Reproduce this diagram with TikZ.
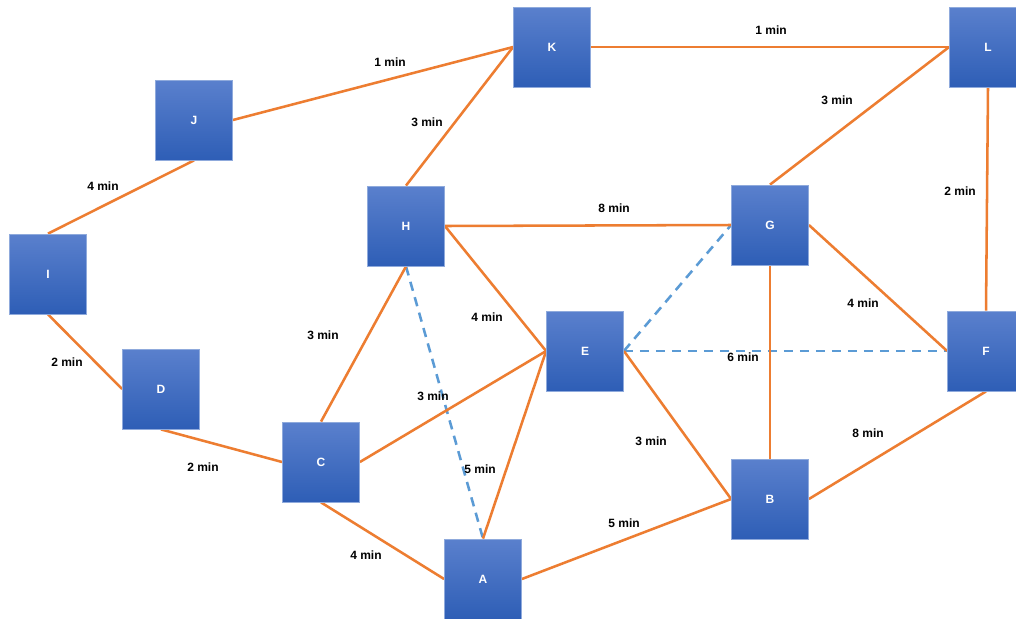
\documentclass[tikz,border=0pt]{standalone}
\usepackage{fontspec}
\setmainfont{Liberation Sans}
\pgfdeclarelayer{links}
\pgfsetlayers{links,main}
\begin{document}
\definecolor{edgeor}{HTML}{ED7D31}
\definecolor{dashbl}{HTML}{5B9BD5}
\definecolor{boxtop}{HTML}{5A80CD}
\definecolor{boxbot}{HTML}{2E5EB6}
\definecolor{boxrim}{HTML}{8FAADC}
\begin{tikzpicture}[x=0.75pt,y=-0.75pt,
  station/.style={rectangle, minimum width=57.75pt, minimum height=60pt, inner sep=0pt,
    top color=boxtop, bottom color=boxbot, draw=boxrim, line width=0.6pt,
    text=white, font=\bfseries\fontsize{9}{10}\selectfont},
  route/.style={draw=edgeor, line width=1.9pt},
  alt/.style={draw=dashbl, line width=1.9pt, dash pattern=on 7pt off 5pt},
  cost/.style={font=\bfseries\fontsize{9}{10}\selectfont, text=black, inner sep=1pt}]
\useasboundingbox (0,0) rectangle (1016,618);
\clip (0,0) rectangle (1016,618);

% stations
\node[station] (K) at (552,47) {K};
\node[station] (L) at (988,47) {L};
\node[station] (J) at (194,120) {J};
\node[station] (I) at (48,274) {I};
\node[station] (H) at (406,226) {H};
\node[station] (G) at (770,225) {G};
\node[station] (E) at (585,351) {E};
\node[station] (F) at (986,351) {F};
\node[station] (D) at (161,389) {D};
\node[station] (C) at (321,462) {C};
\node[station] (B) at (770,499) {B};
\node[station] (A) at (483,579) {A};

\begin{pgfonlayer}{links}
  \fill[white] (0,0) rectangle (1016,618);
  % alternative links (dashed)
  \draw[alt] (H.south) -- (A.north);
  \draw[alt] (E.east) -- (G.west);
  \draw[alt] (E.east) -- (F.west);
  % routes
  \draw[route] (J.east) -- (K.west);
  \draw[route] (K.east) -- (L.west);
  \draw[route] (I.north) -- (J.south);
  \draw[route] (I.south) -- (D.west);
  \draw[route] (D.south) -- (C.west);
  \draw[route] (H.north) -- (K.west);
  \draw[route] (H.east) -- (G.west);
  \draw[route] (H.east) -- (E.west);
  \draw[route] (H.south) -- (C.north);
  \draw[route] (C.east) -- (E.west);
  \draw[route] (C.south) -- (A.west);
  \draw[route] (A.north) -- (E.west);
  \draw[route] (A.east) -- (B.west);
  \draw[route] (E.east) -- (B.west);
  \draw[route] (G.south) -- (B.north);
  \draw[route] (G.north) -- (L.west);
  \draw[route] (G.east) -- (F.west);
  \draw[route] (L.south) -- (F.north);
  \draw[route] (F.south) -- (B.east);
\end{pgfonlayer}

% travel times
\node[cost] (tJK) at (390,62) {1 min};
\node[cost] (tKL) at (771,30) {1 min};
\node[cost] (tHK) at (427,122) {3 min};
\node[cost] (tGL) at (837,100) {3 min};
\node[cost] (tIJ) at (103,186) {4 min};
\node[cost] (tLF) at (960,191) {2 min};
\node[cost] (tHG) at (614,208) {8 min};
\node[cost] (tHE) at (487,317) {4 min};
\node[cost] (tHC) at (323,335) {3 min};
\node[cost] (tGF) at (863,303) {4 min};
\node[cost] (tID) at (67,362) {2 min};
\node[cost] (tEF) at (743,357) {6 min};
\node[cost] (tCE) at (433,396) {3 min};
\node[cost] (tFB) at (868,433) {8 min};
\node[cost] (tEB) at (651,441) {3 min};
\node[cost] (tDC) at (203,467) {2 min};
\node[cost] (tAE) at (480,469) {5 min};
\node[cost] (tAB) at (624,523) {5 min};
\node[cost] (tCA) at (366,555) {4 min};
\end{tikzpicture}
\end{document}
